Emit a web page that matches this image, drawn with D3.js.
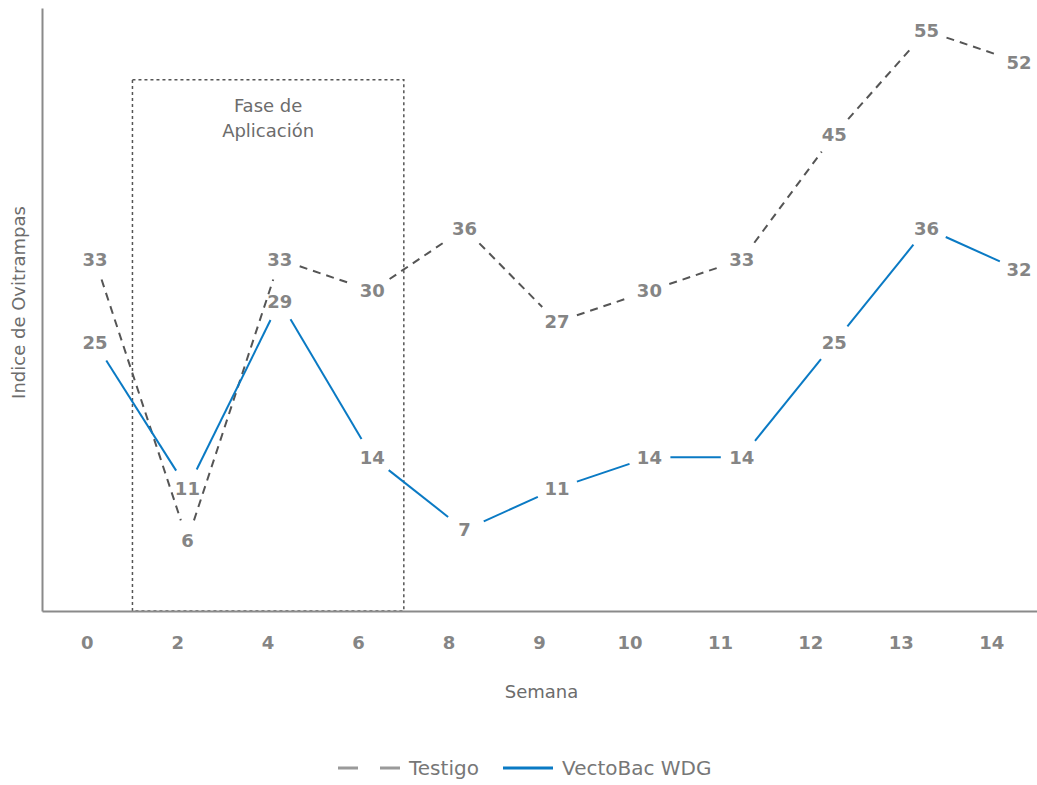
<!DOCTYPE html>
<html>
<head>
<meta charset="utf-8">
<script src="https://cdn.jsdelivr.net/npm/d3@7"></script>
<style>
  html, body { margin: 0; padding: 0; background: #fff; }
  svg { display: block; font-family: "DejaVu Sans", "Liberation Sans", sans-serif; }
</style>
</head>
<body>
<svg id="chart" width="1037" height="785"></svg>
<script>
// Weekly ovitrap index, control vs. treated area
const weeks = ["0", "2", "4", "6", "8", "9", "10", "11", "12", "13", "14"];
const testigo = [33, 6, 33, 30, 36, 27, 30, 33, 45, 55, 52];
const vectobac = [25, 11, 29, 14, 7, 11, 14, 14, 25, 36, 32];
const seriesNames = ["Testigo", "VectoBac WDG"];
// Application phase spans weeks 2 through 6
const faseWeeks = ["2", "8"];
const faseTopValue = 50.3;
const faseText = ["Fase de", "Aplicación"];

const svg = d3.select("#chart");
const plot = { left: 42, right: 1037, top: 8, bottom: 611 };

const xBand = d3.scaleBand().domain(weeks).range([plot.left, plot.right]).padding(0);
const xPt = d3.scalePoint().domain(weeks).range([95, 1019]);
const y = d3.scaleLinear().domain([-0.8, 57.2]).range([plot.bottom, plot.top]);

const grey = "#858585";
const titleGrey = "#6c6c6c";

// Application phase box
const fx0 = xBand(faseWeeks[0]);
const fx1 = xBand(faseWeeks[1]);
svg.append("rect")
  .attr("x", fx0).attr("y", y(faseTopValue))
  .attr("width", fx1 - fx0).attr("height", plot.bottom - y(faseTopValue))
  .attr("fill", "none").attr("stroke", "#555").attr("stroke-width", 1.5)
  .attr("stroke-dasharray", "3,3");
svg.append("text")
  .attr("x", (fx0 + fx1) / 2).attr("y", y(faseTopValue) + 32)
  .attr("text-anchor", "middle").attr("fill", titleGrey).attr("font-size", 18)
  .selectAll("tspan").data(faseText).join("tspan")
  .attr("x", (fx0 + fx1) / 2).attr("dy", (d, i) => i ? 25 : 0).text(d => d);

// Axes
const xAxis = svg.append("g").attr("transform", `translate(0,${plot.bottom})`)
  .call(d3.axisBottom(xBand).tickSize(0).tickSizeOuter(0).tickPadding(25));
xAxis.select(".domain").attr("stroke", "#8a8a8a").attr("stroke-width", 2);
xAxis.selectAll("text").attr("fill", grey).attr("font-size", 18).attr("font-weight", 700)
  .attr("font-family", "'DejaVu Sans', sans-serif");

const yAxis = svg.append("g").attr("transform", `translate(${plot.left},0)`)
  .call(d3.axisLeft(y).tickValues([]).tickSize(0).tickSizeOuter(0));
yAxis.select(".domain").attr("stroke", "#8a8a8a").attr("stroke-width", 2);

svg.append("text")
  .attr("x", (plot.left + plot.right) / 2 + 2).attr("y", 698)
  .attr("text-anchor", "middle").attr("fill", titleGrey).attr("font-size", 18)
  .text("Semana");
svg.append("text")
  .attr("transform", `translate(25,${(plot.top + plot.bottom) / 2 - 7}) rotate(-90)`)
  .attr("text-anchor", "middle").attr("fill", titleGrey).attr("font-size", 18)
  .text("Indice de Ovitrampas");

// Series lines, broken around each value label
const gap = 21;
const series = [
  { name: seriesNames[0], values: testigo, color: "#555", dash: "8,6" },
  { name: seriesNames[1], values: vectobac, color: "#0a7ac4", dash: null }
];
const seg = d3.line();

series.forEach(s => {
  const pts = s.values.map((v, i) => [xPt(weeks[i]), y(v)]);
  const segs = d3.pairs(pts).map(([a, b]) => {
    const dx = b[0] - a[0], dy = b[1] - a[1];
    const len = Math.hypot(dx, dy);
    const ux = dx / len, uy = dy / len;
    return [[a[0] + ux * gap, a[1] + uy * gap], [b[0] - ux * gap, b[1] - uy * gap]];
  });
  const g = svg.append("g");
  g.selectAll("path").data(segs).join("path")
    .attr("d", seg)
    .attr("fill", "none")
    .attr("stroke", s.color).attr("stroke-width", 2)
    .attr("stroke-dasharray", s.dash);
  g.selectAll("text").data(s.values).join("text")
    .attr("x", (d, i) => xPt(weeks[i]))
    .attr("y", d => y(d))
    .attr("dy", "0.36em")
    .attr("text-anchor", "middle")
    .attr("fill", grey).attr("font-size", 18).attr("font-weight", 700)
    .text(d => d);
});

// Legend
const lg = svg.append("g").attr("transform", "translate(0,768)");
lg.append("line").attr("x1", 338).attr("x2", 400).attr("y1", 0).attr("y2", 0)
  .attr("stroke", "#9a9a9a").attr("stroke-width", 3).attr("stroke-dasharray", "20,22");
lg.append("text").attr("x", 409).attr("y", 0).attr("dy", "0.36em")
  .attr("fill", "#777").attr("font-size", 20).text(seriesNames[0]);
lg.append("line").attr("x1", 503).attr("x2", 553).attr("y1", 0).attr("y2", 0)
  .attr("stroke", "#0a7ac4").attr("stroke-width", 3);
lg.append("text").attr("x", 562).attr("y", 0).attr("dy", "0.36em")
  .attr("fill", "#777").attr("font-size", 20).text(seriesNames[1]);
</script>
</body>
</html>
